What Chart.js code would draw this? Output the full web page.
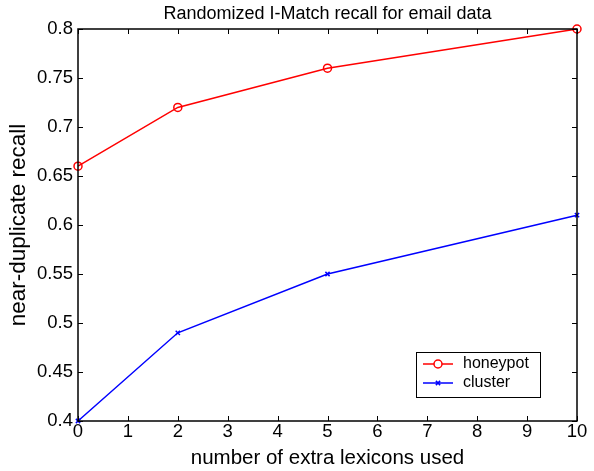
<!DOCTYPE html>
<html>
<head>
<meta charset="utf-8">
<script src="https://cdn.jsdelivr.net/npm/chart.js@4/dist/chart.umd.min.js"></script>
<style>
  html, body { margin: 0; padding: 0; background: #fff; }
  #wrap { width: 594px; height: 471px; }
</style>
</head>
<body>
<div id="wrap"><canvas id="recallChart" width="594" height="471"></canvas></div>
<script>
// chart data
const lexiconCounts = [0, 2, 5, 10];
const honeypotRecall = [0.66, 0.72, 0.76, 0.80];
const clusterRecall = [0.40, 0.49, 0.55, 0.61];
const xTickValues = [0, 1, 2, 3, 4, 5, 6, 7, 8, 9, 10];
const yTickValues = [0.4, 0.45, 0.5, 0.55, 0.6, 0.65, 0.7, 0.75, 0.8];

const FONT = '"Liberation Sans", Arial, Helvetica, sans-serif';

// matlab-style box with inward ticks + legend in lower right
const boxPlugin = {
    id: 'boxPlugin',
    afterDraw(chart) {
        const ctx = chart.ctx;
        const a = chart.chartArea;
        const xs = chart.scales.x;
        const ys = chart.scales.y;
        const len = 5;
        ctx.save();
        ctx.strokeStyle = '#000';
        ctx.lineWidth = 1;
        ctx.beginPath();
        xTickValues.forEach(v => {
            const px = Math.round(xs.getPixelForValue(v)) + 0.5;
            ctx.moveTo(px, a.bottom); ctx.lineTo(px, a.bottom - len);
            ctx.moveTo(px, a.top); ctx.lineTo(px, a.top + len);
        });
        yTickValues.forEach(v => {
            const py = Math.round(ys.getPixelForValue(v)) + 0.5;
            ctx.moveTo(a.left, py); ctx.lineTo(a.left + len, py);
            ctx.moveTo(a.right, py); ctx.lineTo(a.right - len, py);
        });
        ctx.stroke();
        ctx.lineWidth = 1.5;
        ctx.strokeRect(a.left, a.top, a.right - a.left, a.bottom - a.top);

        // legend
        const lx = 416, ly = 352, lw = 124, lh = 45;
        ctx.fillStyle = '#fff';
        ctx.fillRect(lx, ly, lw, lh);
        ctx.lineWidth = 1;
        ctx.strokeStyle = '#000';
        ctx.strokeRect(lx + 0.5, ly + 0.5, lw, lh);
        ctx.font = '16px ' + FONT;
        ctx.textBaseline = 'middle';
        chart.data.datasets.forEach((ds, i) => {
            const y = ly + 12 + i * 19;
            ctx.strokeStyle = ds.borderColor;
            ctx.lineWidth = 1.5;
            ctx.beginPath();
            ctx.moveTo(lx + 7, y); ctx.lineTo(lx + 37, y);
            ctx.stroke();
            Chart.helpers.drawPoint(ctx, {
                pointStyle: ds.pointStyle,
                radius: ds.pointRadius,
                borderWidth: 1.5
            }, lx + 22, y);
            ctx.fillStyle = '#000';
            ctx.fillText(ds.label, lx + 47, y);
        });
        ctx.restore();
    }
};

new Chart(document.getElementById('recallChart').getContext('2d'), {
    type: 'line',
    data: {
        datasets: [
            {
                label: 'honeypot',
                data: lexiconCounts.map((x, i) => ({ x: x, y: honeypotRecall[i] })),
                borderColor: '#ff0000',
                backgroundColor: 'rgba(0,0,0,0)',
                borderWidth: 1.5,
                pointStyle: 'circle',
                pointRadius: 4,
                pointBorderWidth: 1.5,
                pointBorderColor: '#ff0000',
                pointBackgroundColor: 'rgba(0,0,0,0)'
            },
            {
                label: 'cluster',
                data: lexiconCounts.map((x, i) => ({ x: x, y: clusterRecall[i] })),
                borderColor: '#0000ff',
                backgroundColor: 'rgba(0,0,0,0)',
                borderWidth: 1.5,
                pointStyle: 'crossRot',
                pointRadius: 3,
                pointBorderWidth: 1.5,
                pointBorderColor: '#0000ff'
            }
        ]
    },
    options: {
        responsive: false,
        animation: false,
        clip: false,
        layout: { padding: { top: 0, right: 17, bottom: 0, left: 0 } },
        plugins: {
            legend: { display: false },
            tooltip: { enabled: false },
            title: {
                display: true,
                fullSize: false,
                text: 'Randomized I-Match recall for email data',
                color: '#000',
                font: { family: FONT, size: 18, weight: 'normal' },
                padding: { top: 3.2, bottom: 4.2 }
            }
        },
        scales: {
            x: {
                type: 'linear',
                min: 0,
                max: 10,
                afterBuildTicks: s => { s.ticks = xTickValues.map(v => ({ value: v })); },
                afterFit: s => { s.height = 50; },
                grid: { display: false, drawTicks: false },
                border: { display: false },
                ticks: {
                    color: '#000',
                    padding: 0,
                    maxRotation: 0,
                    font: { family: FONT, size: 18.5 },
                    callback: v => String(v)
                },
                title: {
                    display: true,
                    text: 'number of extra lexicons used',
                    color: '#000',
                    font: { family: FONT, size: 20.5 },
                    padding: { top: 0, bottom: 0 }
                }
            },
            y: {
                type: 'linear',
                min: 0.4,
                max: 0.8,
                afterBuildTicks: s => { s.ticks = yTickValues.map(v => ({ value: v })); },
                afterFit: s => { s.width = 78; },
                grid: { display: false, drawTicks: false },
                border: { display: false },
                ticks: {
                    color: '#000',
                    padding: 5,
                    font: { family: FONT, size: 18.5 },
                    callback: v => String(Math.round(v * 100) / 100)
                },
                title: {
                    display: true,
                    text: 'near-duplicate recall',
                    color: '#000',
                    font: { family: FONT, size: 22.5 },
                    padding: { top: 5.5, bottom: 0 }
                }
            }
        }
    },
    plugins: [boxPlugin]
});
</script>
</body>
</html>
